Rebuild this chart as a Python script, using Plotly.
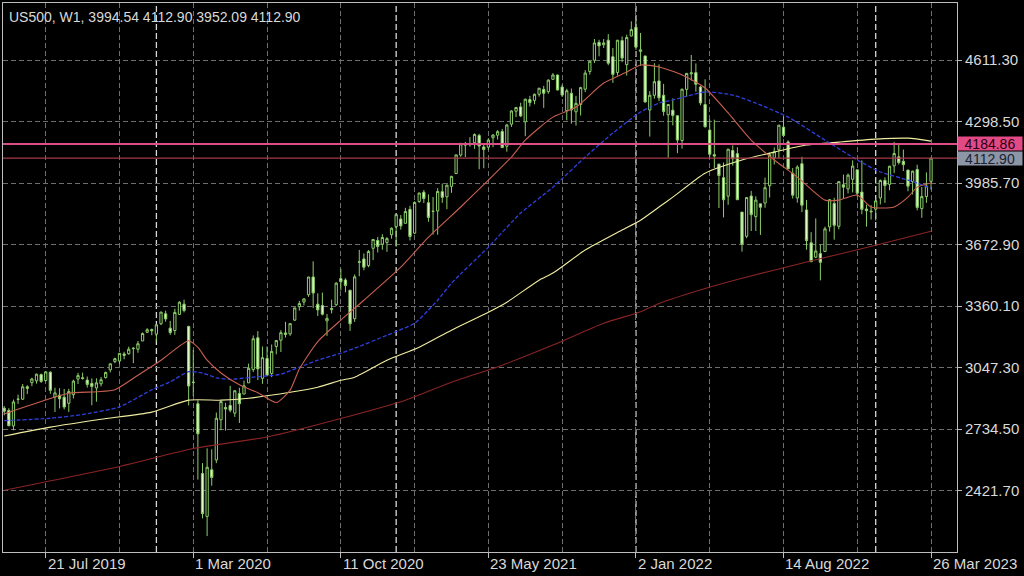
import plotly.graph_objects as go
import pandas as pd

# ---------------- data ----------------
start_week = "2019-05-19"   # first weekly bar (MT weeks start on Sunday)

open_2019 = [2841,2830,2751,2886,2887,2950,2971,2980,3012,2982,3024,2898,2908,2897,2866,2910,2989,2996,2984,2967,2944,2965,2997,3036,3078,3081,3117,3118,3144,3141,3183,3227,3241]
high_2019 = [2852,2841,2885,2910,2964,2958,2996,3017,3017,3028,3029,2945,2943,2939,2940,2986,3021,3022,3002,2993,2993,3000,3027,3067,3098,3121,3128,3154,3150,3183,3226,3248,3246]
low_2019 = [2805,2750,2729,2863,2883,2913,2953,2966,2970,2976,2914,2822,2840,2835,2822,2891,2964,2986,2946,2856,2874,2952,2991,3023,3070,3065,3090,3113,3070,3123,3183,3223,3212]
close_2019 = [2826,2752,2873,2887,2950,2942,2990,3014,2977,3026,2932,2919,2889,2847,2926,2979,3007,2992,2962,2952,2970,2986,3023,3067,3093,3120,3110,3141,3146,3169,3221,3240,3235]

open_2020 = [3218,3270,3321,3248,3236,3318,3370,3257,2974,2864,2509,2291,2528,2578,2782,2845,2855,2816,2916,2913,2970,3038,3199,2993,3094,3018,3155,3187,3224,3219,3289,3357,3381,3418,3508,3370,3363,3285,3342,3367,3500,3493,3441,3296,3583,3600,3566,3654,3694,3675,3684,3723]
high_2020 = [3268,3330,3337,3285,3347,3385,3393,3260,3137,2882,2562,2637,2632,2819,2880,2868,2955,2932,2945,2981,3068,3211,3233,3155,3155,3165,3187,3238,3280,3272,3352,3387,3399,3509,3588,3425,3429,3320,3393,3482,3550,3502,3441,3521,3646,3628,3645,3701,3712,3726,3711,3760]
low_2020 = [3181,3264,3281,3214,3214,3315,3328,2855,2902,2478,2281,2191,2447,2562,2729,2727,2820,2797,2766,2913,2970,3025,2984,2965,3004,2999,3115,3127,3200,3209,3284,3337,3364,3407,3350,3310,3313,3209,3323,3361,3440,3430,3234,3280,3512,3542,3558,3594,3633,3647,3636,3703]
close_2020 = [3265,3330,3295,3226,3328,3380,3338,2954,2972,2711,2305,2541,2489,2790,2875,2837,2831,2930,2864,2955,3044,3194,3041,3098,3009,3130,3185,3225,3216,3271,3351,3373,3397,3508,3427,3341,3319,3298,3348,3477,3484,3465,3270,3509,3585,3558,3638,3699,3663,3709,3703,3756]

open_2021 = [3764,3803,3781,3852,3731,3892,3939,3886,3842,3844,3942,3916,3969,4034,4128,4180,4185,4191,4228,4169,4168,4216,4229,4248,4173,4285,4351,4373,4297,4410,4406,4437,4462,4450,4513,4535,4474,4354,4442,4348,4385,4463,4553,4610,4701,4689,4712,4628,4548,4710,4588,4733]
high_2021 = [3827,3823,3860,3870,3893,3937,3950,3928,3915,3960,3983,3978,4021,4129,4191,4195,4219,4238,4236,4187,4214,4234,4255,4261,4287,4356,4372,4394,4415,4429,4441,4469,4480,4513,4545,4536,4486,4465,4466,4429,4475,4560,4608,4718,4714,4718,4743,4672,4713,4731,4740,4808]
low_2021 = [3662,3749,3781,3694,3726,3885,3884,3789,3724,3723,3885,3853,3936,4034,4119,4118,4171,4160,4056,4061,4155,4168,4207,4164,4145,4271,4321,4321,4224,4375,4386,4425,4368,4440,4510,4457,4423,4305,4288,4278,4329,4448,4537,4596,4630,4672,4585,4495,4532,4600,4532,4733]
close_2021 = [3825,3768,3841,3714,3887,3935,3907,3811,3842,3943,3913,3975,4020,4129,4185,4180,4181,4233,4174,4156,4204,4230,4247,4166,4281,4352,4370,4327,4412,4395,4437,4468,4442,4509,4535,4459,4433,4455,4357,4391,4471,4545,4605,4698,4683,4698,4595,4538,4712,4621,4726,4766]

open_2022 = [4778,4655,4632,4357,4432,4505,4432,4333,4356,4328,4202,4462,4541,4547,4474,4385,4255,4130,4082,4013,3919,4151,4135,3838,3715,3920,3815,3880,3884,3972,4113,4155,4270,4195,4035,3910,4084,3849,3682,3609,3627,3638,3763,3882,3766,3977,3956,4005,4053,3940,3854,3843]
high_2022 = [4819,4749,4632,4453,4595,4589,4490,4385,4416,4329,4465,4546,4637,4594,4480,4513,4309,4308,4082,4090,4159,4177,4168,3838,3914,3946,3918,3880,4013,4140,4167,4280,4325,4203,4062,4076,4119,3900,3736,3806,3673,3764,3905,3911,3993,4029,4034,4101,4053,4101,3876,3873]
low_2022 = [4663,4582,4395,4222,4415,4402,4328,4115,4279,4138,4161,4424,4507,4450,4381,4268,4115,4062,3859,3811,3875,4074,3900,3637,3705,3742,3742,3722,3860,3912,4080,4113,4218,4057,3907,3886,3838,3647,3584,3604,3491,3636,3739,3698,3751,3906,3933,3938,3918,3827,3764,3800]
close_2022 = [4677,4663,4398,4432,4501,4419,4349,4385,4329,4204,4463,4543,4546,4488,4393,4272,4132,4123,4024,3901,4158,4109,3901,3675,3912,3825,3899,3863,3962,4130,4145,4280,4228,4058,3924,4067,3873,3693,3586,3640,3583,3753,3901,3771,3993,3965,4026,4072,3934,3852,3845,3840]

open_2023 = [3853,3910,3999,3979,4073,4119,4096,4052,3993,4055,3856,3917,3994.54]
high_2023 = [3907,4004,4015,4074,4195,4182,4156,4052,4049,4079,3966,4040,4112.90]
low_2023 = [3795,3877,3885,3949,4037,4080,4047,3944,3928,3847,3809,3885,3952.09]
close_2023 = [3895,3999,3973,4071,4136,4090,4079,3970,4046,3862,3917,3971,4112.90]

# moving averages (bar index, value)
ma20_idx = [0,10,14,20,24,29,34,40,42,44,47,51,55,59,62,64,68,73,78,86,92,99,105,110,113,119,124,130,135,138,142,147,152,157,162,167,172,178,181,185,188,193,196,198,201]
ma20_val = [2812,2890,2917,2925,2935,3009,3085,3184,3150,3085,3020,2960,2920,2870,2933,3040,3180,3289,3390,3558,3711,3864,4001,4118,4204,4321,4372,4494,4550,4586,4576,4535,4469,4342,4204,4103,4016,3899,3899,3925,3864,3864,3914,3965,3986]

ma50_idx = [0,10,17,25,32,36,40,43,46,49,53,60,64,68,73,76,83,89,92,94,97,105,112,119,126,132,138,142,145,152,158,163,170,178,185,190,196,201]
ma50_val = [2778,2790,2809,2848,2935,2975,3027,3020,2995,2988,2997,3014,3050,3085,3121,3146,3212,3273,3340,3390,3477,3660,3833,3965,4118,4240,4347,4392,4408,4449,4433,4392,4321,4204,4103,4042,4001,3960]

ma100_idx = [0,10,21,32,40,47,53,62,68,73,76,83,90,97,105,109,116,119,126,134,138,142,145,152,160,167,174,181,189,196,201]
ma100_val = [2700,2745,2785,2821,2882,2882,2892,2922,2948,2983,2999,3085,3151,3238,3329,3380,3492,3528,3645,3747,3797,3864,3914,4036,4103,4143,4179,4194,4209,4214,4199]

ma200_idx = [0,25,41,57,73,87,97,108,119,130,138,142,152,160,174,189,201]
ma200_val = [2424,2545,2636,2695,2789,2882,2973,3060,3162,3273,3331,3374,3450,3502,3584,3670,3741]

# horizontal price levels
level_values = [4184.86, 4112.90]
level_text = ["4184.86", "4112.90"]

# axes
y_ticks = [2421.70, 2734.50, 3047.30, 3360.10, 3672.90, 3985.70, 4298.50, 4611.30]
x_label_dates = ["2019-07-21", "2020-03-01", "2020-10-11", "2021-05-23", "2022-01-02", "2022-08-14", "2023-03-26"]
x_label_text = ["21 Jul 2019", "1 Mar 2020", "11 Oct 2020", "23 May 2021", "2 Jan 2022", "14 Aug 2022", "26 Mar 2023"]
x_minor_dates = ["2019-11-10", "2020-06-21", "2021-01-31", "2021-09-12", "2022-04-24", "2022-12-04"]
year_sep_dates = ["2020-01-05", "2021-01-03", "2022-01-02", "2023-01-01"]

title_text = "US500, W1, 3994.54 4112.90 3952.09 4112.90"

# ---------------- build ----------------
opens = open_2019 + open_2020 + open_2021 + open_2022 + open_2023
highs = high_2019 + high_2020 + high_2021 + high_2022 + high_2023
lows = low_2019 + low_2020 + low_2021 + low_2022 + low_2023
closes = close_2019 + close_2020 + close_2021 + close_2022 + close_2023
assert len(opens) == len(highs) == len(lows) == len(closes)
dates = pd.date_range(start_week, periods=len(closes), freq="7D")

FONT = "Liberation Sans, Arial, sans-serif"
TXT = "#d9d9d9"
GRID = "#6e6e6e"
WICK = "#8ccd6a"
BODY = "#e0fac8"

fig = go.Figure()
fig.add_trace(go.Candlestick(
    x=dates, open=opens, high=highs, low=lows, close=closes,
    increasing=dict(line=dict(color=WICK, width=1), fillcolor="#000000"),
    decreasing=dict(line=dict(color=WICK, width=1), fillcolor=BODY),
    whiskerwidth=0, showlegend=False, hoverinfo="skip"))

def ma_line(idx, vals, color, dash="solid", width=1.1):
    fig.add_trace(go.Scatter(
        x=[dates[k] for k in idx], y=vals, mode="lines",
        line=dict(color=color, width=width, dash=dash, shape="spline", smoothing=0.6),
        showlegend=False, hoverinfo="skip"))

ma_line(ma200_idx, ma200_val, "#8a2424")
ma_line(ma100_idx, ma100_val, "#f0eea0")
ma_line(ma50_idx, ma50_val, "#2f3fe0", dash="4px,2px", width=1.3)
ma_line(ma20_idx, ma20_val, "#c8604f")

shapes = []
for d in year_sep_dates:
    shapes.append(dict(type="line", xref="x", yref="paper", x0=d, x1=d, y0=0, y1=1,
                       line=dict(color="#d8d8d8", width=1.3, dash="6px,3px"), layer="below"))
level_colors = ["#dc4f86", "#a83a48"]
level_widths = [2, 1.2]
for v, c, w in zip(level_values, level_colors, level_widths):
    shapes.append(dict(type="line", xref="paper", yref="y", x0=0, x1=1, y0=v, y1=v,
                       line=dict(color=c, width=w), layer="above"))

annotations = [dict(x=0, xref="paper", xanchor="left", xshift=4, y=1, yref="paper", yanchor="top",
                    yshift=-4, text=title_text, showarrow=False,
                    font=dict(family=FONT, size=14, color=TXT))]
for d, t in zip(x_label_dates, x_label_text):
    annotations.append(dict(x=d, xref="x", xanchor="left", y=0, yref="paper", yanchor="top",
                            yshift=-1, text=t, showarrow=False,
                            font=dict(family=FONT, size=15, color=TXT)))
tag_bg = ["#e24a86", "#8c96a6"]
tag_fg = ["#2a0012", "#1a2230"]
for v, t, bg, fg in zip(level_values, level_text, tag_bg, tag_fg):
    annotations.append(dict(x=1, xref="paper", xanchor="left", y=v, yref="y", yanchor="middle",
                            text=t, showarrow=False, bgcolor=bg, borderpad=0, width=64, height=13,
                            font=dict(family=FONT, size=14, color=fg)))

fig.update_layout(
    width=1024, height=576,
    margin=dict(l=3, r=67, t=3, b=24),
    paper_bgcolor="#000000", plot_bgcolor="#000000",
    shapes=shapes, annotations=annotations,
    xaxis=dict(type="date", range=["2019-05-17 03:00", "2023-05-04 10:00"],
               rangeslider=dict(visible=False),
               tickmode="array", tickvals=x_label_dates, showticklabels=False,
               ticks="outside", ticklen=5, tickcolor="#bdbdbd",
               showgrid=True, gridcolor=GRID, gridwidth=1, griddash="5px,3px",
               minor=dict(tickmode="array", tickvals=x_minor_dates, showgrid=True,
                          gridcolor=GRID, gridwidth=1, griddash="5px,3px", ticks=""),
               showline=True, linecolor="#bdbdbd", linewidth=1, mirror=True, zeroline=False),
    yaxis=dict(side="right", range=[2110.1, 4901.1],
               tickmode="array", tickvals=y_ticks, ticktext=[f"{v:.2f}" for v in y_ticks],
               ticks="outside", ticklen=4, tickcolor="#bdbdbd",
               tickfont=dict(family=FONT, size=15, color=TXT),
               showgrid=True, gridcolor=GRID, gridwidth=1, griddash="5px,3px",
               showline=True, linecolor="#bdbdbd", linewidth=1, mirror=True, zeroline=False),
)

fig.write_html("out.html", config={"displayModeBar": False})

# remove the browser's default page margin so the 1024x576 figure fills the window exactly
with open("out.html", "r", encoding="utf-8") as f:
    html = f.read()
html = html.replace("<head>", "<head><style>html,body{margin:0;padding:0;background:#000;overflow:hidden}</style>", 1)
with open("out.html", "w", encoding="utf-8") as f:
    f.write(html)
